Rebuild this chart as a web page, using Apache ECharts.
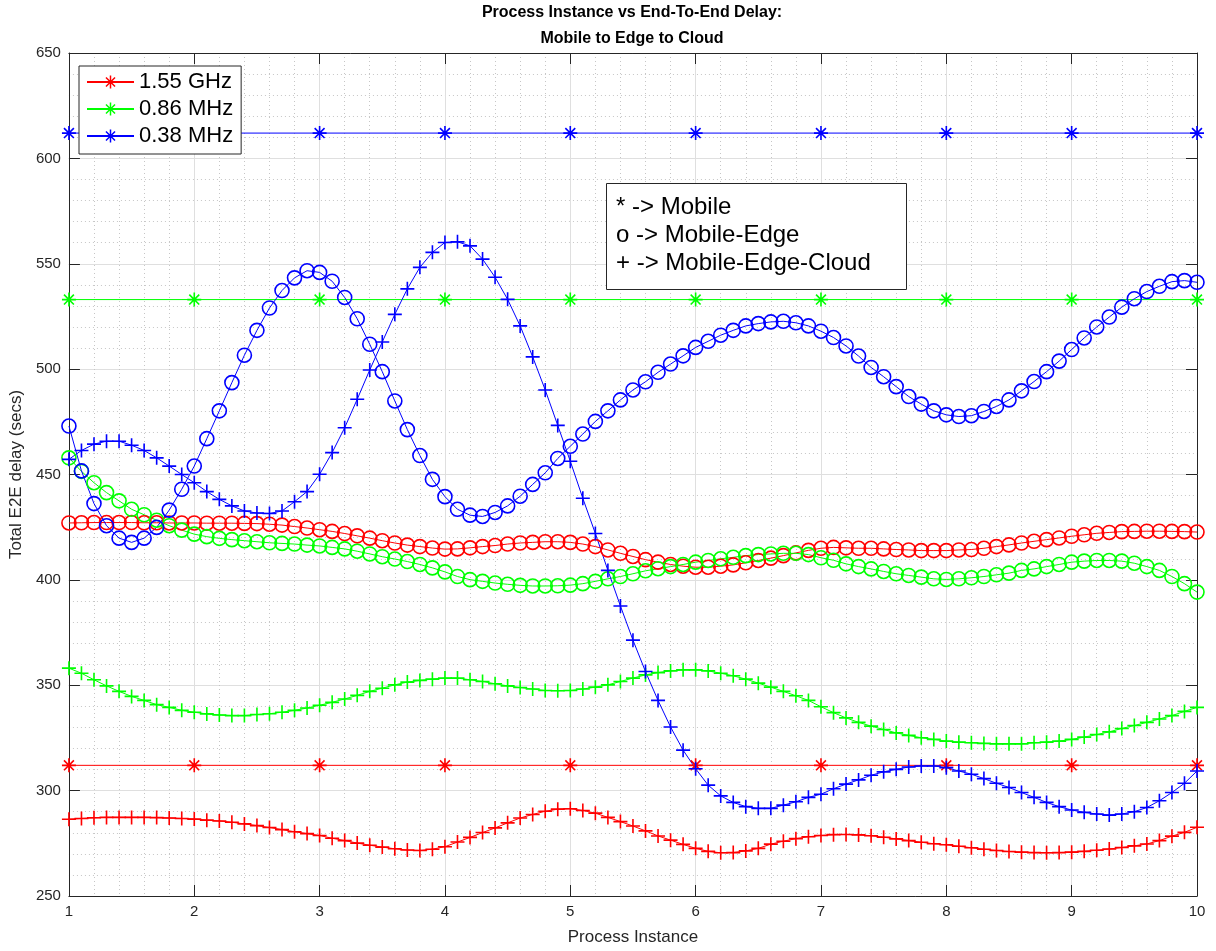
<!DOCTYPE html>
<html>
<head>
<meta charset="utf-8">
<title>Process Instance vs End-To-End Delay</title>
<script src="https://cdn.jsdelivr.net/npm/echarts@6/dist/echarts.min.js"></script>
<style>
  html, body { margin: 0; padding: 0; background: #ffffff; }
  #chart { width: 1216px; height: 951px; }
</style>
</head>
<body>
<div id="chart"></div>
<script>
// ---- sample positions (process instance) ----
const instance = [
  1.0, 1.1, 1.2, 1.3, 1.4, 1.5, 1.6, 1.7, 1.8, 1.9,
  2.0, 2.1, 2.2, 2.3, 2.4, 2.5, 2.6, 2.7, 2.8, 2.9,
  3.0, 3.1, 3.2, 3.3, 3.4, 3.5, 3.6, 3.7, 3.8, 3.9,
  4.0, 4.1, 4.2, 4.3, 4.4, 4.5, 4.6, 4.7, 4.8, 4.9,
  5.0, 5.1, 5.2, 5.3, 5.4, 5.5, 5.6, 5.7, 5.8, 5.9,
  6.0, 6.1, 6.2, 6.3, 6.4, 6.5, 6.6, 6.7, 6.8, 6.9,
  7.0, 7.1, 7.2, 7.3, 7.4, 7.5, 7.6, 7.7, 7.8, 7.9,
  8.0, 8.1, 8.2, 8.3, 8.4, 8.5, 8.6, 8.7, 8.8, 8.9,
  9.0, 9.1, 9.2, 9.3, 9.4, 9.5, 9.6, 9.7, 9.8, 9.9,
  10.0
];
const mobileInstance = [1, 2, 3, 4, 5, 6, 7, 8, 9, 10];

// ---- Mobile only (*) ----
const mobile155GHz = [312, 312, 312, 312, 312, 312, 312, 312, 312, 312];
const mobile086MHz = [533, 533, 533, 533, 533, 533, 533, 533, 533, 533];
const mobile038MHz = [612, 612, 612, 612, 612, 612, 612, 612, 612, 612];

// ---- Mobile-Edge (o) ----
const edge155GHz = [
  427.0, 427.1, 427.2, 427.2, 427.2, 427.2, 427.1, 427.1, 427.0, 427.0,
  427.0, 426.9, 426.9, 426.9, 426.8, 426.7, 426.4, 426.0, 425.3, 424.6,
  423.8, 423.0, 422.0, 420.9, 419.8, 418.6, 417.5, 416.5, 415.8, 415.1,
  414.6, 414.7, 415.2, 415.8, 416.3, 417.0, 417.5, 417.8, 418.1, 418.1,
  417.8, 417.0, 415.8, 414.2, 412.6, 411.1, 409.6, 408.4, 407.3, 406.5,
  406.0, 406.0, 406.5, 407.1, 408.1, 409.2, 410.3, 411.5, 412.8, 414.0,
  415.0, 415.4, 415.2, 415.0, 415.0, 414.7, 414.4, 414.2, 413.9, 413.9,
  413.9, 414.2, 414.4, 415.0, 415.8, 416.6, 417.5, 418.3, 419.1, 419.9,
  420.7, 421.4, 422.1, 422.5, 422.9, 423.0, 423.1, 423.1, 423.0, 422.9,
  422.7
];
const edge086MHz = [
  457.9, 451.5, 446.1, 441.4, 437.5, 433.5, 430.9, 428.3, 425.7, 423.6,
  421.7, 420.5, 419.7, 419.1, 418.6, 418.1, 417.6, 417.3, 417.0, 416.5,
  416.1, 415.4, 414.7, 413.6, 412.3, 411.0, 409.9, 408.7, 407.3, 405.7,
  403.8, 401.6, 400.1, 399.3, 398.5, 397.9, 397.4, 397.1, 397.1, 397.2,
  397.5, 398.2, 399.3, 400.5, 401.6, 402.9, 404.3, 405.3, 406.3, 407.3,
  408.4, 409.2, 410.0, 410.7, 411.5, 412.0, 412.3, 412.6, 412.6, 412.0,
  410.5, 409.3, 407.6, 406.3, 405.2, 404.0, 402.9, 402.1, 401.3, 400.5,
  400.2, 400.5, 401.0, 401.6, 402.4, 403.2, 404.5, 405.2, 406.3, 407.3,
  408.4, 408.9, 409.2, 409.2, 408.9, 407.9, 406.3, 404.5, 401.6, 398.2,
  394.2
];
const edge038MHz = [
  473.0, 451.7, 436.2, 425.7, 419.8, 417.8, 419.8, 424.9, 433.1, 443.0,
  454.0, 467.0, 480.2, 493.6, 506.6, 518.4, 529.0, 537.3, 543.3, 546.7,
  545.9, 541.7, 534.0, 523.9, 511.8, 498.8, 484.9, 471.3, 459.0, 447.7,
  439.5, 433.5, 430.7, 430.1, 432.0, 435.1, 439.7, 445.3, 450.8, 457.6,
  463.4, 469.2, 475.2, 480.2, 485.4, 490.1, 494.0, 498.5, 502.4, 506.3,
  510.3, 513.2, 516.1, 518.4, 520.5, 521.6, 522.4, 522.7, 522.0, 520.5,
  518.0, 515.0, 511.0, 506.2, 500.8, 496.4, 491.7, 487.0, 483.4, 480.2,
  478.3, 477.5, 477.9, 479.9, 482.3, 485.4, 489.7, 494.1, 498.8, 503.8,
  509.3, 514.8, 520.0, 524.7, 529.4, 533.4, 536.8, 539.3, 541.5, 542.0,
  541.2
];

// ---- Mobile-Edge-Cloud (+) ----
const cloud155GHz = [
  286.4, 286.8, 287.1, 287.3, 287.3, 287.3, 287.3, 287.2, 287.0, 286.8,
  286.5, 286.0, 285.6, 285.0, 284.2, 283.4, 282.5, 281.5, 280.5, 279.6,
  278.7, 277.4, 276.3, 275.1, 274.1, 273.2, 272.4, 271.8, 271.6, 272.2,
  273.4, 275.6, 277.8, 280.1, 282.3, 284.7, 287.0, 288.7, 290.2, 291.2,
  291.4, 290.6, 289.3, 287.3, 285.3, 283.2, 280.9, 278.5, 276.5, 274.5,
  272.6, 271.2, 270.5, 270.6, 271.4, 272.6, 274.6, 276.0, 277.2, 278.1,
  278.7, 279.1, 279.2, 279.0, 278.6, 277.9, 277.1, 276.3, 275.5, 274.8,
  274.3, 273.6, 272.9, 272.2, 271.6, 271.1, 270.8, 270.6, 270.5, 270.6,
  270.8, 271.2, 271.7, 272.3, 273.0, 273.8, 274.7, 276.3, 278.4, 280.2,
  282.6
];
const cloud086MHz = [
  358.1, 355.7, 352.6, 349.7, 347.1, 344.7, 342.8, 340.8, 339.5, 338.1,
  337.2, 336.4, 335.9, 335.6, 335.6, 336.1, 336.5, 337.2, 338.1, 339.2,
  340.5, 341.9, 343.5, 345.2, 347.1, 348.6, 350.2, 351.5, 352.3, 352.9,
  353.4, 353.4, 352.6, 351.8, 350.7, 349.7, 348.9, 348.2, 347.5, 347.4,
  347.5, 348.2, 349.1, 350.2, 351.8, 353.4, 354.9, 356.0, 356.8, 357.3,
  357.3, 356.8, 355.7, 354.5, 352.9, 351.0, 349.1, 347.1, 345.0, 342.8,
  339.8, 337.0, 334.5, 332.4, 330.6, 329.0, 327.4, 326.2, 325.1, 324.3,
  323.5, 323.0, 322.7, 322.4, 322.2, 322.2, 322.2, 322.7, 323.0, 323.5,
  324.3, 325.4, 326.6, 327.9, 329.5, 330.9, 332.4, 334.0, 335.6, 337.6,
  339.5
];
const cloud038MHz = [
  457.2, 461.4, 464.4, 465.8, 465.8, 463.9, 461.4, 457.9, 454.0, 450.0,
  446.1, 441.9, 438.2, 435.1, 432.7, 431.7, 431.5, 432.7, 437.1, 441.9,
  450.1, 460.4, 472.2, 485.7, 499.6, 512.9, 526.0, 538.1, 548.3, 555.4,
  560.1, 560.4, 558.5, 552.2, 543.6, 533.1, 520.5, 505.8, 490.1, 473.3,
  456.3, 438.7, 422.0, 404.5, 387.6, 371.4, 356.5, 342.8, 330.2, 319.2,
  310.4, 302.6, 297.5, 294.4, 292.4, 291.6, 291.6, 293.1, 294.7, 296.8,
  298.3, 300.9, 303.1, 305.1, 307.3, 308.9, 310.1, 311.2, 311.7, 311.7,
  310.9, 309.3, 307.8, 305.7, 303.5, 301.5, 299.1, 296.8, 294.4, 292.4,
  290.8, 289.7, 288.9, 288.4, 288.9, 290.0, 292.0, 295.2, 299.1, 303.5,
  309.3
];

// ---- axis ticks ----
const xTicks = { min: 1, max: 10, step: 1 };
const yTicks = { min: 250, max: 650, step: 50 };

const legendNames = ['1.55 GHz', '0.86 MHz', '0.38 MHz'];
const annotationLines = ['* -> Mobile', 'o -> Mobile-Edge', '+ -> Mobile-Edge-Cloud'];

// ---- styling ----
const FONT = "'Liberation Sans', Arial, Helvetica, sans-serif";
const AXIS_COLOR = '#262626';
const RED = '#ff0000', GREEN = '#00ff00', BLUE = '#0000ff';
const MARKER_SIZE = 14;

// Marker glyphs built from thin bars (filled paths, same winding so they merge).
function bar(ax, ay, bx, by, h) {
  const dx = bx - ax, dy = by - ay;
  const len = Math.hypot(dx, dy);
  const nx = -dy / len * h, ny = dx / len * h;
  const p = [[ax + nx, ay + ny], [bx + nx, by + ny], [bx - nx, by - ny], [ax - nx, ay - ny]];
  return 'M' + p.map(q => q[0].toFixed(3) + ',' + q[1].toFixed(3)).join('L') + 'Z';
}
const d45 = 10 * Math.SQRT1_2;
const ASTERISK = 'path://' +
  bar(0, 10, 20, 10, 1.15) + bar(10, 0, 10, 20, 1.15) +
  bar(10 - d45, 10 - d45, 10 + d45, 10 + d45, 1.15) +
  bar(10 - d45, 10 + d45, 10 + d45, 10 - d45, 1.15);
const PLUS = 'path://' + bar(0, 10, 20, 10, 1.15) + bar(10, 0, 10, 20, 1.15);

function pairs(xs, ys) { return xs.map((x, i) => [x, ys[i]]); }

function mobileSeries(name, color, ys) {
  return {
    name, type: 'line', data: pairs(mobileInstance, ys),
    symbol: ASTERISK, symbolSize: MARKER_SIZE, showSymbol: true, showAllSymbol: true,
    lineStyle: { color, width: 1 }, itemStyle: { color },
    emphasis: { disabled: true }, animation: false
  };
}
function edgeSeries(name, color, ys) {
  return {
    name, type: 'line', data: pairs(instance, ys),
    symbol: 'circle', symbolSize: MARKER_SIZE, showSymbol: true, showAllSymbol: true,
    lineStyle: { color, width: 1 },
    itemStyle: { color: 'rgba(0,0,0,0)', borderColor: color, borderWidth: 1.6 },
    emphasis: { disabled: true }, animation: false
  };
}
function cloudSeries(name, color, ys) {
  return {
    name, type: 'line', data: pairs(instance, ys),
    symbol: PLUS, symbolSize: MARKER_SIZE, showSymbol: true, showAllSymbol: true,
    lineStyle: { color, width: 1 }, itemStyle: { color },
    emphasis: { disabled: true }, animation: false
  };
}

function boxAxis(common, extra) { return Object.assign({}, common, extra); }

const xCommon = {
  type: 'value', min: xTicks.min, max: xTicks.max, interval: xTicks.step,
  axisLine: { show: true, onZero: false, lineStyle: { color: AXIS_COLOR, width: 1 } },
  axisTick: { show: true, inside: true, length: 11, lineStyle: { color: AXIS_COLOR, width: 1 } }
};
const yCommon = {
  type: 'value', min: yTicks.min, max: yTicks.max, interval: yTicks.step,
  axisLine: { show: true, onZero: false, lineStyle: { color: AXIS_COLOR, width: 1 } },
  axisTick: { show: true, inside: true, length: 11, lineStyle: { color: AXIS_COLOR, width: 1 } }
};
const majorGrid = { show: true, lineStyle: { color: '#dfdfdf', width: 1 } };
const minorGrid = { show: true, lineStyle: { color: '#c6c6c6', width: 1, type: [1, 3] } };

const chart = echarts.init(document.getElementById('chart'), null, { renderer: 'canvas' });

const noteFont = '24px ' + FONT;

chart.setOption({
  animation: false,
  backgroundColor: '#ffffff',
  title: {
    text: 'Process Instance vs End-To-End Delay:\nMobile to Edge to Cloud',
    left: 632, top: 0, padding: 0, textAlign: 'center',
    textStyle: { fontFamily: FONT, fontSize: 16, fontWeight: 'bold', color: '#000', lineHeight: 26 }
  },
  grid: { left: 67, right: 19, top: 53, bottom: 50, containLabel: false },
  legend: {
    data: legendNames,
    orient: 'vertical', left: 79, top: 66,
    padding: [5, 8, 7, 7],
    itemWidth: 47, itemHeight: 16, itemGap: 5,
    backgroundColor: '#ffffff', borderColor: AXIS_COLOR, borderWidth: 1,
    textStyle: { fontFamily: FONT, fontSize: 22, color: '#000', lineHeight: 22 },
    selectedMode: false
  },
  xAxis: [
    boxAxis(xCommon, {
      position: 'bottom',
      name: 'Process Instance', nameLocation: 'middle', nameGap: 33,
      nameTextStyle: { fontFamily: FONT, fontSize: 17, color: AXIS_COLOR },
      axisLabel: { color: AXIS_COLOR, fontFamily: FONT, fontSize: 15, margin: 8 },
      splitLine: majorGrid,
      minorTick: { show: false, splitNumber: 5 },
      minorSplitLine: minorGrid
    }),
    boxAxis(xCommon, {
      position: 'top', axisLabel: { show: false }, splitLine: { show: false }
    })
  ],
  yAxis: [
    boxAxis(yCommon, {
      position: 'left',
      name: 'Total E2E delay (secs)', nameLocation: 'middle', nameGap: 34,
      nameTextStyle: { fontFamily: FONT, fontSize: 17, color: AXIS_COLOR },
      axisLabel: { color: AXIS_COLOR, fontFamily: FONT, fontSize: 15, margin: 8 },
      splitLine: majorGrid,
      minorTick: { show: false, splitNumber: 5 },
      minorSplitLine: minorGrid
    }),
    boxAxis(yCommon, {
      position: 'right', axisLabel: { show: false }, splitLine: { show: false }
    })
  ],
  series: [
    mobileSeries(legendNames[0], RED, mobile155GHz),
    mobileSeries(legendNames[1], GREEN, mobile086MHz),
    mobileSeries(legendNames[2], BLUE, mobile038MHz),
    edgeSeries('1.55 GHz Mobile-Edge', RED, edge155GHz),
    edgeSeries('0.86 MHz Mobile-Edge', GREEN, edge086MHz),
    edgeSeries('0.38 MHz Mobile-Edge', BLUE, edge038MHz),
    cloudSeries('1.55 GHz Mobile-Edge-Cloud', RED, cloud155GHz),
    cloudSeries('0.86 MHz Mobile-Edge-Cloud', GREEN, cloud086MHz),
    cloudSeries('0.38 MHz Mobile-Edge-Cloud', BLUE, cloud038MHz)
  ],
  graphic: [
    { type: 'rect', left: 606, top: 183, z: 100, zlevel: 1,
      shape: { width: 300, height: 106 },
      style: { fill: '#ffffff', stroke: AXIS_COLOR, lineWidth: 1 } },
    { type: 'text', left: 616, top: 195, z: 101, zlevel: 1,
      style: { text: annotationLines[0], font: noteFont, fill: '#000' } },
    { type: 'text', left: 616, top: 223, z: 101, zlevel: 1,
      style: { text: annotationLines[1], font: noteFont, fill: '#000' } },
    { type: 'text', left: 616, top: 251, z: 101, zlevel: 1,
      style: { text: annotationLines[2], font: noteFont, fill: '#000' } }
  ]
});
</script>
</body>
</html>
